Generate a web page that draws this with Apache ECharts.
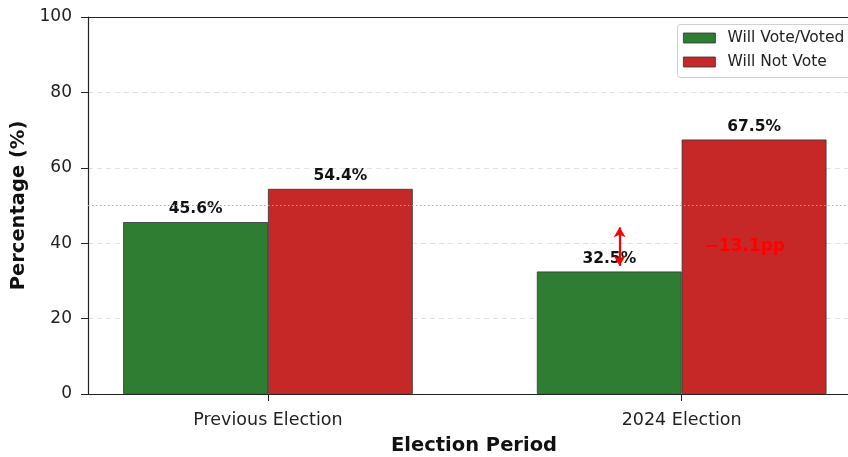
<!DOCTYPE html>
<html>
<head>
<meta charset="utf-8">
<script src="https://cdn.jsdelivr.net/npm/echarts@6/dist/echarts.min.js"></script>
<style>
  html, body { margin: 0; padding: 0; background: #fff; }
  #chart { width: 848px; height: 457px; }
</style>
</head>
<body>
<div id="chart"></div>
<script>
// Voting intention by election period
const periods = ['Previous Election', '2024 Election'];
const willVote = [45.6, 32.5];
const willNotVote = [54.4, 67.5];
const seriesNames = ['Will Vote/Voted', 'Will Not Vote'];
const yTicks = [0, 20, 40, 60, 80, 100];
const referenceLevel = 50;
// change marker: drawn beside the 2024 "will vote" bar
const changeX = 0.85;
const changeArrow = [44.2, 34.0];
const changeTextX = 1.055;

// visible x range (the plot runs past the right edge of the canvas)
const xMin = -0.435;
const xMax = 1.402;

const FONT = 'DejaVu Sans';
const GREEN = '#2e7d32';
const RED = '#c62828';
const AXIS = '#222';

const positions = periods.map((_, i) => i);
const change = willVote[1] - willVote[0];
const changeText = (change < 0 ? '\u2212' : '+') + Math.abs(change).toFixed(1) + 'pp';

const chart = echarts.init(document.getElementById('chart'), null, { renderer: 'canvas' });

const valueLabel = {
  show: true,
  position: 'top',
  distance: 5,
  formatter: p => p.value[1].toFixed(1) + '%',
  fontFamily: FONT,
  fontWeight: 'bold',
  fontSize: 15.5,
  color: '#111'
};

chart.setOption({
  animation: false,
  backgroundColor: '#fff',
  grid: { left: 88, top: 17, bottom: 63, right: 0, containLabel: false, outerBoundsMode: 'none' },
  graphic: [{
    // legend frame
    type: 'rect',
    z: 50,
    shape: { x: 677.5, y: 24.5, width: 200, height: 53, r: 3 },
    style: { fill: '#fff', stroke: '#d0d0d0', lineWidth: 1 }
  }],
  legend: {
    orient: 'vertical',
    left: 683, top: 30,
    padding: 0,
    z: 60,
    icon: 'rect',
    itemWidth: 32, itemHeight: 10, itemGap: 8,
    itemStyle: { borderColor: '#333', borderWidth: 0.8 },
    textStyle: { fontFamily: FONT, fontSize: 15.5, color: '#222', padding: [0, 0, 0, 7] },
    data: seriesNames
  },
  xAxis: [{
    type: 'value',
    min: xMin, max: xMax,
    name: 'Election Period',
    nameLocation: 'middle',
    nameGap: 42,
    nameTextStyle: { fontFamily: FONT, fontWeight: 'bold', fontSize: 19.5, color: '#111', padding: [0, 0, 0, 12] },
    splitLine: { show: false },
    axisLine: { show: true, onZero: false, lineStyle: { color: AXIS, width: 1.2 } },
    axisTick: { show: true, customValues: positions, length: 7, lineStyle: { color: AXIS } },
    axisLabel: {
      customValues: positions,
      formatter: v => periods[Math.round(v)] || '',
      margin: 17,
      fontFamily: FONT, fontSize: 17.5, color: '#222'
    }
  }, {
    // top frame line
    type: 'value',
    position: 'top',
    min: xMin, max: xMax,
    axisLine: { show: true, onZero: false, lineStyle: { color: AXIS, width: 1.2 } },
    axisTick: { show: false },
    axisLabel: { show: false },
    splitLine: { show: false }
  }],
  yAxis: {
    type: 'value',
    min: yTicks[0], max: yTicks[yTicks.length - 1], interval: 20,
    name: 'Percentage (%)',
    nameLocation: 'middle',
    nameGap: 58,
    nameTextStyle: { fontFamily: FONT, fontWeight: 'bold', fontSize: 19.5, color: '#111' },
    axisLine: { show: true, onZero: false, lineStyle: { color: AXIS, width: 1.2 } },
    axisTick: { show: true, length: 7, lineStyle: { color: AXIS } },
    axisLabel: { margin: 16, fontFamily: FONT, fontSize: 17, color: '#222' },
    splitLine: {
      show: true, showMinLine: false, showMaxLine: false,
      lineStyle: { color: '#e2e2e2', type: [5, 4], width: 1 }
    }
  },
  series: [
    {
      name: seriesNames[0],
      type: 'bar',
      barWidth: '35%',
      barGap: '0%',
      data: positions.map((x, i) => [x, willVote[i]]),
      itemStyle: { color: GREEN, borderColor: '#333', borderWidth: 0.8 },
      label: valueLabel,
      markLine: {
        silent: true,
        symbol: ['none', 'none'],
        label: { show: false },
        lineStyle: { color: '#aaa', type: [1.5, 2.5], width: 1.2 },
        data: [{ yAxis: referenceLevel }]
      }
    },
    {
      name: seriesNames[1],
      type: 'bar',
      barWidth: '35%',
      barGap: '0%',
      data: positions.map((x, i) => [x, willNotVote[i]]),
      itemStyle: { color: RED, borderColor: '#333', borderWidth: 0.8 },
      label: valueLabel,
      z: 2
    },
    {
      // change arrow and its label
      type: 'scatter',
      data: [],
      z: 10,
      markLine: {
        silent: true,
        symbol: ['arrow', 'arrow'],
        symbolSize: [9, 10],
        label: { show: false },
        lineStyle: { color: '#ff0000', type: 'solid', width: 2.2 },
        data: [[{ coord: [changeX, changeArrow[0]] }, { coord: [changeX, changeArrow[1]] }]]
      },
      markPoint: {
        silent: true,
        symbol: 'circle',
        symbolSize: 0,
        label: {
          show: true,
          position: 'right',
          distance: 0,
          formatter: changeText,
          fontFamily: FONT, fontWeight: 'bold', fontSize: 17, color: '#ff0000'
        },
        data: [{ coord: [changeTextX, (willVote[0] + willVote[1]) / 2] }]
      }
    }
  ]
});
</script>
</body>
</html>
